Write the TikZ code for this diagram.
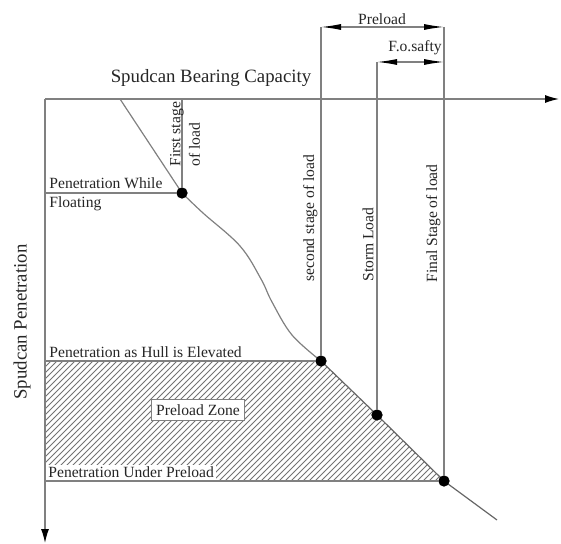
\documentclass[tikz,border=0pt]{standalone}
\usepackage{fontspec}
\setmainfont{Liberation Serif}
\usetikzlibrary{arrows.meta,patterns,backgrounds}

\begin{document}
\begin{tikzpicture}[x=0.5pt,y=-0.5pt,
line/.style={draw=black!50, line width=0.6pt},
dot/.style={fill=black,draw=black,circle,inner sep=0pt,minimum size=5.2pt},
lbl/.style={inner sep=1pt,text=black!85,font=\fontsize{7.8}{9.8}\selectfont},
vlbl/.style={lbl,rotate=90,anchor=south west},
big/.style={inner sep=1pt,text=black!85,font=\fontsize{9.4}{11}\selectfont},
dim/.style={line,{Latex[length=10pt,width=3pt,color=black]}-{Latex[length=10pt,width=3pt,color=black]}},
axis/.style={line,-{Latex[length=7pt,width=4pt,color=black]}}]
\useasboundingbox (0,0) rectangle (561,544);
%================================================================
%	Coordinates
\coordinate (o) at (45,99);
\coordinate (xe) at (559,99);
\coordinate (ye) at (45,543);
\coordinate (s0) at (120,99);
\coordinate (t1) at (182,99);
\coordinate (t2) at (321,27);
\coordinate (t3) at (377,62);
\coordinate (t4) at (444,27);
\coordinate (t5) at (444,62);
\coordinate (h1) at (45,193);
\coordinate (h2) at (45,361);
\coordinate (h3) at (45,481);
\coordinate (e0) at (497,520);
%----------------------------------------------------------------
\coordinate (c1) at (203,213);
\coordinate (c2) at (240,246);
\coordinate (c3) at (261,279);
\coordinate (c4) at (272,302);
\coordinate (c5) at (292,335);

%================================================================
%	Nodes
\node[dot] (d1) at (182,193) {};
\node[dot] (d2) at (321,361) {};
\node[dot] (d3) at (377,415) {};
\node[dot] (d4) at (444,481) {};

\begin{pgfonlayer}{background}
%================================================================
%	Boxes
\fill[pattern=north east lines, pattern color=black!55] (h2) -- (d2.center) -- (d4.center) -- (h3) -- cycle;

%================================================================
%	Lines
\draw[axis] (o) -- (xe);
\draw[axis] (o) -- (ye);
%----------------------------------------------------------------
\draw[line] (s0) -- (d1.center);
\draw[line] plot[smooth, tension=0.6] coordinates {(d1.center) (c1) (c2) (c3) (c4) (c5) (d2.center)};
\draw[line, draw=black!60] (d2.center) -- (d3.center) -- (d4.center) -- (e0);
%----------------------------------------------------------------
\draw[line] (t1) -- (d1);
\draw[line] (t2) -- (d2);
\draw[line] (t3) -- (d3);
\draw[line] (t4) -- (d4);
%----------------------------------------------------------------
\draw[line] (h1) -- (d1);
\draw[line] (h2) -- (d2);
\draw[line] (h3) -- (d4);
\end{pgfonlayer}
%----------------------------------------------------------------
\draw[dim] (t2) -- (t4);
\draw[dim] (t3) -- (t5);

%================================================================
%	Labels
\node[big] (title) at (211,78) {Spudcan Bearing Capacity};
\node[big, rotate=90] (ylab) at (22,322) {Spudcan Penetration};
%----------------------------------------------------------------
\node[lbl] (pre) at (382,19) {Preload};
\node[lbl] (fos) at (415,48) {F.o.safty};
%----------------------------------------------------------------
\node[lbl, rotate=90, align=left, anchor=west] (l1) at (185,169) {First stage\\of load};
\node[vlbl] (l2) at (320,284) {second stage of load};
\node[vlbl] (l3) at (376,284) {Storm Load};
\node[vlbl] (l4) at (443,285) {Final Stage of load};
%----------------------------------------------------------------
\node[lbl, anchor=west] (p1) at (47,183) {Penetration While};
\node[lbl, anchor=west] (p2) at (47,204) {Floating};
\node[lbl, anchor=west] (p3) at (47,352) {Penetration as Hull is Elevated};
\node[lbl, anchor=south west, fill=white] (p4) at (46,480) {Penetration Under Preload};
\node[lbl, draw=black!50, fill=white, inner sep=2.5pt] (zone) at (198,410) {Preload Zone};
%================================================================
\end{tikzpicture}
\end{document}
